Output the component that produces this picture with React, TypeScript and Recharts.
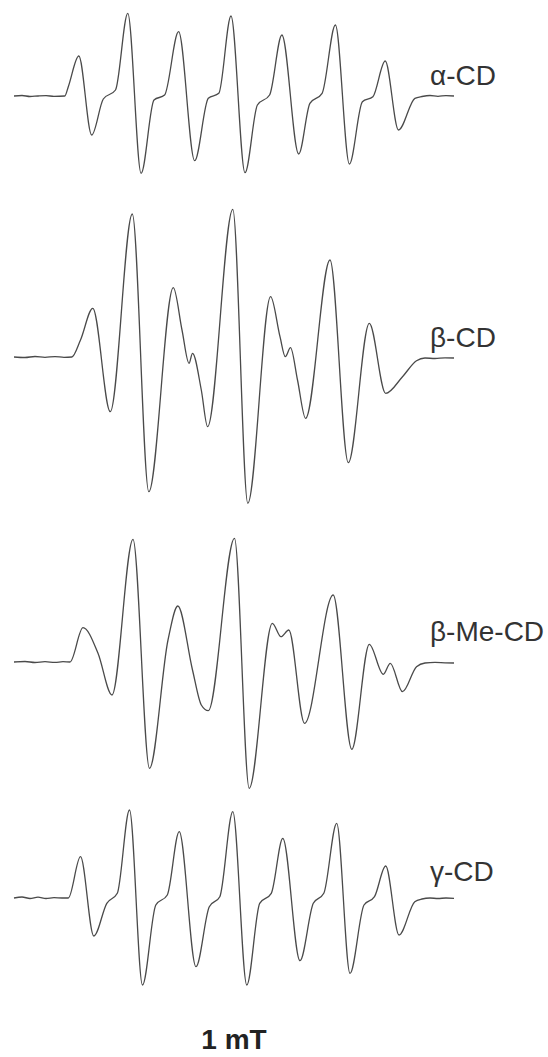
import React from 'react';
import { LineChart, Line, XAxis, YAxis } from 'recharts';

// Field positions (arbitrary field units) and EPR signal amplitudes (arbitrary units)
const alphaField = [14, 22, 30, 38, 46, 54, 64.8, 68.3, 78.8, 91.7, 103.3, 115.5, 127.8, 141.1, 154, 164.6, 178.6, 194.7, 208.3, 218.8, 231, 245, 257.4, 269.6, 281.9, 298.7, 309.9, 322.1, 335.4, 349.4, 362.4, 372.9, 385.2, 398.5, 414.9, 422, 430, 438, 446, 454];
const alphaSignal = [0, 0.5, -0.5, 0, 0.3, -0.3, 0, 9.3, 40, -39, -3, 6, 82.7, -77.3, -4, 1, 64.3, -64.7, -2.3, 2.7, 80, -76.7, -9, 1, 61, -58, -7.3, 2.7, 71, -68, -5.7, -0.7, 35, -34, -2.3, -0.5, 0.5, -0.3, 0.4, 0];

const betaField = [14, 25, 35, 45, 55, 64, 71.8, 80.5, 92.8, 110.3, 132.3, 148.8, 173.3, 182, 189, 192.5, 201.3, 207.6, 232.8, 247.8, 270.6, 280, 285.3, 290.5, 297.5, 305.6, 330, 348.3, 369.3, 385.7, 402.5, 416.5, 425, 435, 445, 454];
const betaSignal = [0, -0.5, 0.5, -0.3, 0.4, -0.3, 0, 17, 48.7, -54.7, 143, -134.7, 69.3, 27, -6.3, 3.7, -33, -69.7, 147.7, -146.3, 60.3, 20.3, 0.3, 9.3, -23, -61.3, 97, -105.7, 33.7, -36.3, -19.7, -3.7, -1, -1.5, -0.8, -1];

const betaMeField = [14, 25, 35, 45, 55, 63, 70, 83, 98, 112, 133, 149.5, 168, 177.8, 192.5, 201.3, 208.3, 234.5, 249.2, 272.3, 281, 288.8, 304.5, 333.2, 351.8, 369.3, 383.3, 390.3, 402.5, 416.5, 425, 435, 445, 454];
const betaMeSignal = [0, 0.5, -0.5, 0.3, -0.4, 0.3, 0, 34.3, 8.7, -33, 122.7, -106.3, 22, 56, -8, -43, -48.7, 123.7, -126.3, 38.7, 25.3, 32, -61.3, 67, -87.3, 17.7, -12.3, -1.3, -29.7, -4.7, -1, -0.4, -0.8, -1];

const gammaField = [14, 22, 30, 38, 46, 54, 62, 68.3, 80.5, 93.8, 106.8, 117.3, 129.5, 142.5, 155.8, 167.3, 179.2, 196, 209.3, 219.8, 232.8, 246.8, 259.7, 271.3, 282.8, 300, 313.3, 323.8, 336.7, 350, 364, 374.5, 385.7, 399, 414.8, 422, 430, 438, 446, 454];
const gammaSignal = [0, 1, -0.5, 0.8, -0.5, 0.3, 0, 0, 41.3, -38, -5.3, 4.7, 88, -87, -7, 3, 66.3, -68.7, -8.7, 1.3, 86.3, -87, -5.3, 4.7, 59.7, -62.7, -5.3, 4.7, 74.7, -75.3, -7, 1.3, 32, -37, -3.7, -1, 0, -0.5, 0, -0.3];

const labels = ['α-CD', 'β-CD', 'β-Me-CD', 'γ-CD'];
const scaleLabel = '1 mT';

const build = (xs: number[], ys: number[]) => xs.map((x, i) => ({ x, y: ys[i] }));

const traces = [
  { key: 'a', data: build(alphaField, alphaSignal), top: 0, height: 200, domain: [-104, 96], labelTop: 62 },
  { key: 'b', data: build(betaField, betaSignal), top: 200, height: 320, domain: [-163, 157], labelTop: 324 },
  { key: 'c', data: build(betaMeField, betaMeSignal), top: 520, height: 280, domain: [-138, 142], labelTop: 618 },
  { key: 'd', data: build(gammaField, gammaSignal), top: 800, height: 220, domain: [-122, 98], labelTop: 858 },
];

const labelStyle: React.CSSProperties = {
  position: 'absolute',
  left: 430,
  fontFamily: '"Liberation Sans", Arial, sans-serif',
  fontSize: 28,
  lineHeight: '28px',
  color: '#333',
  whiteSpace: 'nowrap',
};

export default function App() {
  return (
    <div style={{ position: 'absolute', left: 0, top: 0, width: 548, height: 1057, background: '#fff', overflow: 'hidden' }}>
      {traces.map((t, i) => (
        <div key={t.key} style={{ position: 'absolute', left: 0, top: t.top }}>
          <LineChart
            width={548}
            height={t.height}
            data={t.data}
            margin={{ top: 0, right: 0, bottom: 0, left: 0 }}
            accessibilityLayer={false}
          >
            <XAxis dataKey="x" type="number" domain={[0, 548]} hide />
            <YAxis type="number" domain={t.domain} hide width={0} />
            <Line
              type="monotone"
              dataKey="y"
              stroke="#4a4a4a"
              strokeWidth={1.3}
              dot={false}
              activeDot={false}
              isAnimationActive={false}
            />
          </LineChart>
          <div style={{ ...labelStyle, top: t.labelTop - t.top }}>{labels[i]}</div>
        </div>
      ))}
      <div
        style={{
          position: 'absolute',
          left: 0,
          width: 468,
          top: 1026,
          textAlign: 'center',
          fontFamily: '"Liberation Sans", Arial, sans-serif',
          fontWeight: 'bold',
          fontSize: 28,
          lineHeight: '28px',
          color: '#222',
        }}
      >
        {scaleLabel}
      </div>
    </div>
  );
}
